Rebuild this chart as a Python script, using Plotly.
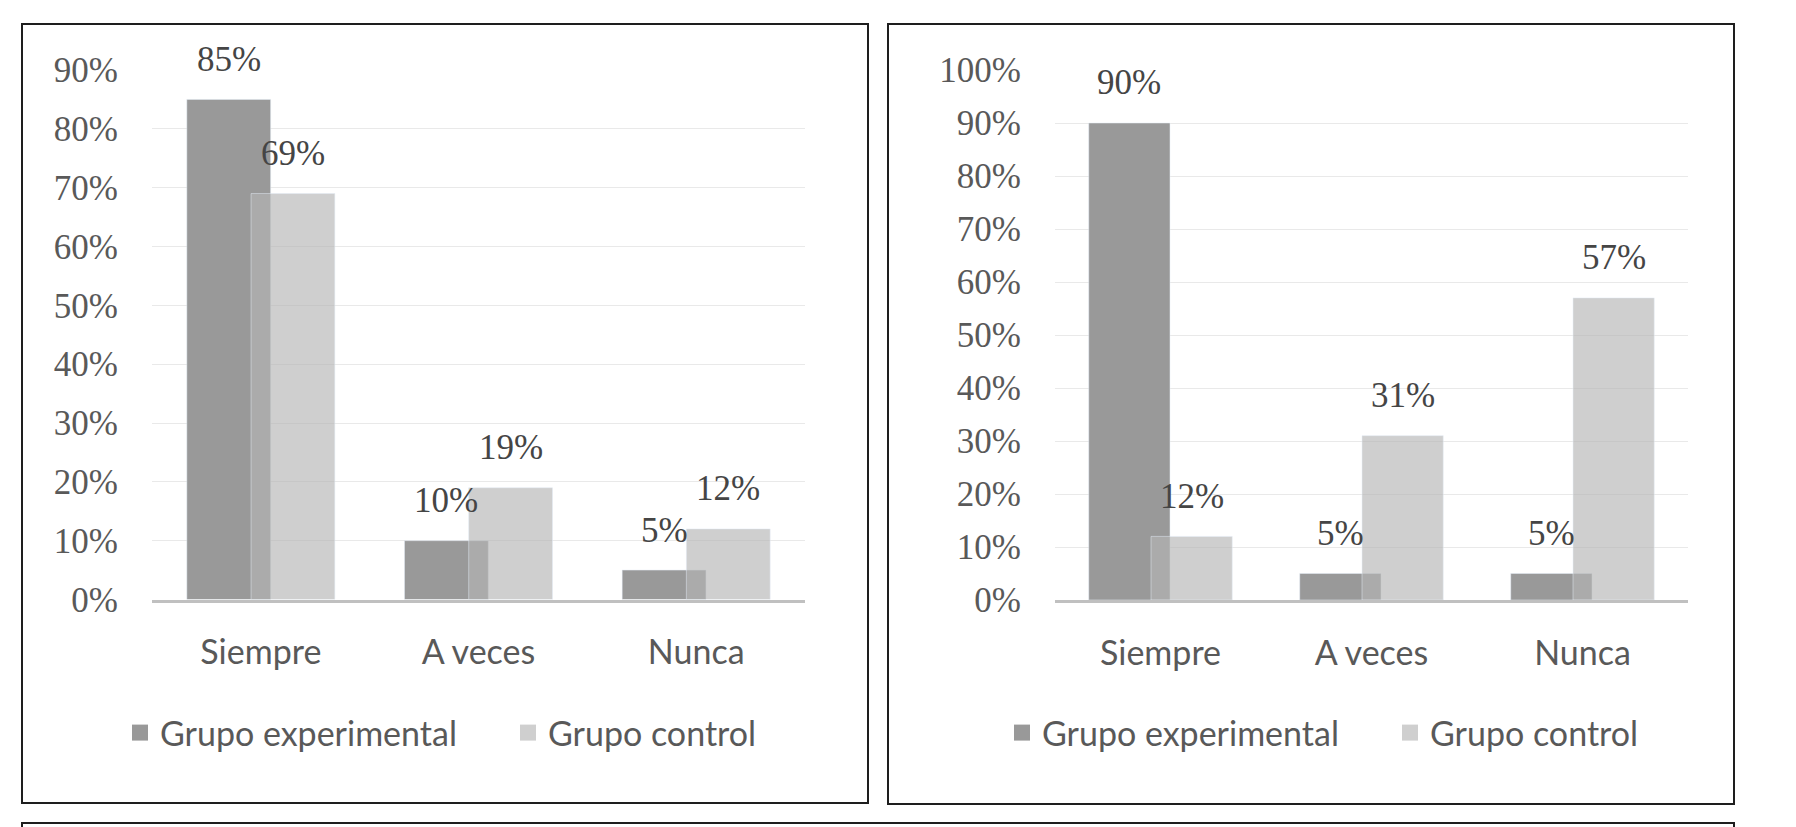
import plotly.graph_objects as go

categorias = ["Siempre", "A veces", "Nunca"]
grupos = ["Grupo experimental", "Grupo control"]

# panel izquierdo
izq_experimental = [0.85, 0.10, 0.05]
izq_control = [0.69, 0.19, 0.12]

# panel derecho
der_experimental = [0.90, 0.05, 0.05]
der_control = [0.12, 0.31, 0.57]

W, H = 1796, 827
PAD = 8  # margen del <body> de la pagina
GRIS_EXP = "#999999"
GRIS_CTRL = "rgba(181,181,181,0.65)"
GRIS_CTRL_LEYENDA = "#cfcfcf"
TEXTO = "#595959"
SANS = "Lato, 'Open Sans', sans-serif"
SERIF = "'Liberation Serif', 'DejaVu Serif', serif"

ANCHO = 0.385
OFF_EXP = -0.34
OFF_CTRL = -0.045


def px_x(v):
    return (v - PAD) / W


def px_y(v):
    return 1 - (v - PAD) / H


fig = go.Figure()


def panel(exp, ctrl, n, leyenda):
    xa = "x" if n == 1 else "x%d" % n
    ya = "y" if n == 1 else "y%d" % n
    fig.add_trace(go.Bar(x=categorias, y=exp, name=grupos[0], marker_color=GRIS_EXP,
                         width=ANCHO, offset=OFF_EXP, xaxis=xa, yaxis=ya,
                         showlegend=False, hoverinfo="y"))
    fig.add_trace(go.Bar(x=categorias, y=ctrl, name=grupos[1], marker_color=GRIS_CTRL,
                         width=ANCHO, offset=OFF_CTRL, xaxis=xa, yaxis=ya,
                         showlegend=False, hoverinfo="y"))
    # entradas de leyenda con cuadro grande
    for nombre, color in zip(grupos, [GRIS_EXP, GRIS_CTRL_LEYENDA]):
        fig.add_trace(go.Scatter(x=[None], y=[None], mode="markers", name=nombre,
                                 marker=dict(symbol="square", size=20, color=color),
                                 xaxis=xa, yaxis=ya, legend=leyenda))
    # etiquetas de datos
    for serie, off in [(exp, OFF_EXP), (ctrl, OFF_CTRL)]:
        for i, v in enumerate(serie):
            fig.add_annotation(x=i + off + ANCHO / 2, y=v, xref=xa, yref=ya,
                               text="{:.0%}".format(v), showarrow=False,
                               yanchor="middle", yshift=40,
                               font=dict(family=SERIF, size=35, color="#454545"))


panel(izq_experimental, izq_control, 1, "legend")
panel(der_experimental, der_control, 2, "legend2")

eje_y = dict(tickformat=".0%", dtick=0.1, showgrid=True, gridcolor="#e9e9e9", gridwidth=1,
             zeroline=False, showline=False, ticks="", ticklabelstandoff=33,
             tickfont=dict(family=SERIF, size=35, color=TEXTO), fixedrange=True,
             automargin=False)
eje_x = dict(type="category", showline=True, linecolor="#c0c0c0", linewidth=3,
             showgrid=False, ticks="", ticklabelstandoff=21,
             tickfont=dict(family=SANS, size=34, color=TEXTO), fixedrange=True,
             automargin=False)

leyenda = dict(orientation="h", yanchor="middle", y=px_y(733), xanchor="left",
               font=dict(family=SANS, size=34, color=TEXTO), bgcolor="rgba(0,0,0,0)",
               entrywidth=343, itemwidth=30)

fig.update_layout(
    width=W, height=H, autosize=False,
    margin=dict(l=0, r=0, t=0, b=0, autoexpand=False),
    paper_bgcolor="white", plot_bgcolor="white",
    barmode="overlay",
    xaxis=dict(eje_x, domain=[px_x(152), px_x(805)], anchor="y", range=[-0.5, 2.5]),
    yaxis=dict(eje_y, domain=[px_y(599.5), px_y(70)], anchor="x", range=[0, 0.9]),
    xaxis2=dict(eje_x, domain=[px_x(1055), px_x(1688)], anchor="y2", range=[-0.5, 2.5]),
    yaxis2=dict(eje_y, domain=[px_y(600), px_y(70)], anchor="x2", range=[0, 1.0]),
    legend=dict(leyenda, x=px_x(120)),
    legend2=dict(leyenda, x=px_x(1002)),
)

# marcos de los paneles
marcos = [(22, 24, 868, 803), (888, 24, 1734, 804), (22, 823, 1734, 850)]
for x0, y0, x1, y1 in marcos:
    fig.add_shape(type="rect", xref="paper", yref="paper",
                  x0=px_x(x0), y0=px_y(y0), x1=px_x(x1), y1=px_y(y1),
                  line=dict(color="#1e1e1e", width=2), fillcolor="rgba(0,0,0,0)")

fig.write_html("out.html")
